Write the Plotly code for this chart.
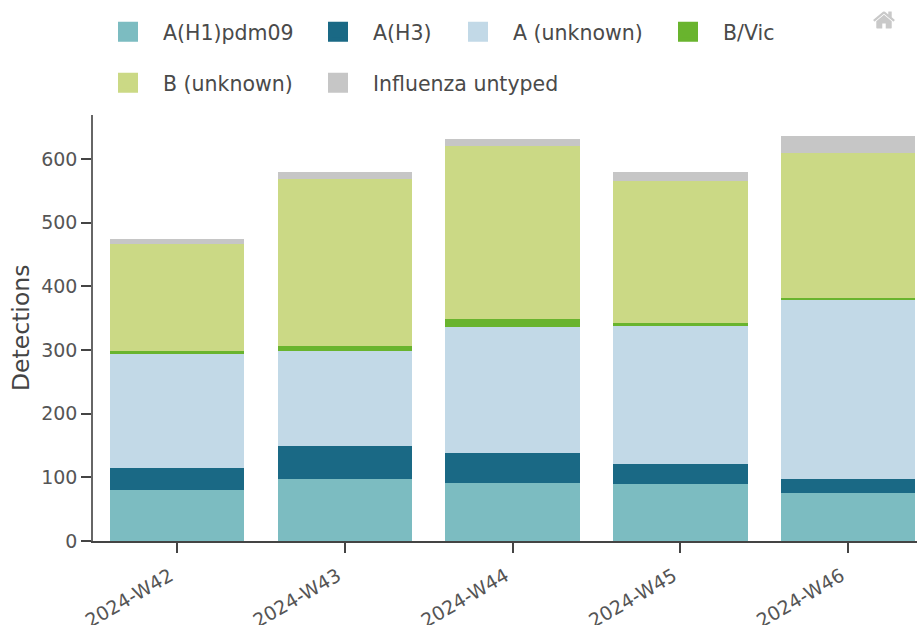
import plotly.graph_objects as go

weeks = ["2024-W42", "2024-W43", "2024-W44", "2024-W45", "2024-W46"]
h1 = [80, 98, 91, 89, 75]
h3 = [35, 51, 47, 32, 23]
a_unknown = [178, 149, 198, 217, 281]
b_vic = [5, 8, 12, 4, 2]
b_unknown = [169, 262, 272, 224, 229]
untyped = [8, 12, 11, 14, 26]

names = ["A(H1)pdm09", "A(H3)", "A (unknown)", "B/Vic", "B (unknown)", "Influenza untyped"]
colors = ["#7cbcc1", "#1a6985", "#c2d9e7", "#69b42e", "#cbd985", "#c6c6c6"]
values = [h1, h3, a_unknown, b_vic, b_unknown, untyped]
legend_x = [118, 328, 468, 678, 118, 328]
legend_y = [32, 32, 32, 32, 83, 83]

W, H = 917, 625
fig = go.Figure()
layout_legends = {}
for i, (n, c, v) in enumerate(zip(names, colors, values)):
    key = "legend" if i == 0 else f"legend{i+1}"
    fig.add_trace(go.Bar(x=weeks, y=v, name=n, marker=dict(color=c, line=dict(width=0)),
                         legendgroup=n, showlegend=False))
    fig.add_trace(go.Scatter(x=[None], y=[None], name=n, mode="markers", legend=key, legendgroup=n,
                             marker=dict(symbol="square", size=16, color=c, line=dict(color=c, width=4))))
    layout_legends[key] = dict(
        xref="container", yref="container",
        x=(legend_x[i] - 25) / W, y=1 - legend_y[i] / H,
        xanchor="left", yanchor="middle", itemsizing="trace", itemwidth=60,
        font=dict(family="DejaVu Sans", size=20.5, color="#4a4a4a"),
        bgcolor="rgba(0,0,0,0)",
    )

fig.update_layout(
    width=W, height=H, barmode="stack", bargap=0.2,
    margin=dict(l=93, r=0, t=115, b=84, autoexpand=False),
    paper_bgcolor="white", plot_bgcolor="white",
    font=dict(family="DejaVu Sans", size=19, color="#555555"),
    xaxis=dict(type="category", range=[-0.5, 4.41], showline=True, linecolor="#444444", linewidth=1.5,
               ticks="outside", ticklen=10, tickwidth=1.5, tickcolor="#444444", tickangle=-30,
               ticklabelstandoff=5, ticklabelshift=-7,
               layer="below traces", showgrid=False, zeroline=False),
    yaxis=dict(range=[0, 669], tickvals=[0, 100, 200, 300, 400, 500, 600],
               showline=True, linecolor="#666666", linewidth=1.5,
               ticks="outside", ticklen=10, tickwidth=2, tickcolor="#444444",
               layer="below traces", showgrid=False, zeroline=False),
    annotations=[dict(text="Detections", textangle=-90, xref="paper", yref="paper",
                      x=(21 - 93) / 824, y=(541 - 328) / 426, xanchor="center", yanchor="middle",
                      showarrow=False, font=dict(size=23.5, color="#444444"))],
    modebar=dict(bgcolor="rgba(0,0,0,0)", color="#c9c9c9", activecolor="#999999"),
    **layout_legends,
)

css = (".js-plotly-plot .plotly .modebar{top:5px!important;right:17px!important}"
       ".js-plotly-plot .plotly .modebar-btn{font-size:24px!important;height:24px!important}")
fig.write_html("out.html", config=dict(displayModeBar=True, displaylogo=False,
                                       modeBarButtons=[["resetScale2d"]]),
               post_script="document.body.style.margin='0';document.documentElement.style.overflow='hidden';"
                           "var s=document.createElement('style');s.textContent=" + repr(css) + ";document.head.appendChild(s);")
